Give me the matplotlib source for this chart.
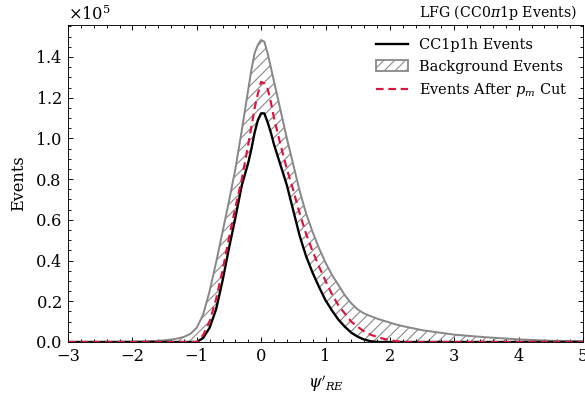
import numpy as np
import matplotlib
matplotlib.use("Agg")
import matplotlib.pyplot as plt
from matplotlib.ticker import MultipleLocator, AutoMinorLocator, ScalarFormatter
from matplotlib.lines import Line2D
from matplotlib.patches import Patch

plt.rcParams.update({
    "font.family": ["DejaVu Serif"],
    "mathtext.fontset": "dejavuserif",
    "font.size": 8,
    "xtick.direction": "in",
    "ytick.direction": "in",
    "xtick.top": True,
    "ytick.right": True,
    "xtick.minor.visible": True,
    "ytick.minor.visible": True,
    "xtick.major.size": 3,
    "ytick.major.size": 3,
    "xtick.minor.size": 1.5,
    "ytick.minor.size": 1.5,
    "xtick.major.width": 0.5,
    "ytick.major.width": 0.5,
    "xtick.minor.width": 0.5,
    "ytick.minor.width": 0.5,
    "axes.linewidth": 0.5,
    "hatch.linewidth": 0.6,
    "hatch.color": "#888888",
})

# psi'_RE grid
psi = [-3.0, -2.5, -2.0, -1.8, -1.6, -1.5, -1.4, -1.3, -1.2, -1.1, -1.0,
       -0.9, -0.8, -0.7, -0.6, -0.5, -0.4, -0.3, -0.2, -0.15, -0.1, -0.05, 0.0, 0.05,
       0.1, 0.15, 0.2, 0.3, 0.4, 0.5, 0.6, 0.7, 0.8, 0.9, 1.0, 1.1, 1.2, 1.3,
       1.4, 1.5, 1.6, 1.7, 1.8, 1.9, 2.0, 2.1, 2.2, 2.5, 3.0, 3.5, 4.0,
       4.5, 5.0]

# Events (units of 1e5)
cc1p1h = [0, 0, 0, 0, 0, 0, 0, 0, 0, 0, 0.0,
          0.02, 0.07, 0.16, 0.30, 0.46, 0.61, 0.77, 0.88, 0.95, 1.03, 1.09, 1.123, 1.123,
          1.08, 1.03, 0.97, 0.87, 0.77, 0.645, 0.52, 0.42, 0.34, 0.27, 0.205, 0.155, 0.11, 0.075,
          0.046, 0.026, 0.012, 0.004, 0.0, 0, 0, 0, 0, 0, 0, 0, 0,
          0, 0]

after_cut = [0, 0, 0, 0, 0, 0, 0, 0, 0, 0, 0.0,
             0.034, 0.10, 0.21, 0.35, 0.51, 0.66, 0.80, 0.97, 1.06, 1.15, 1.22, 1.278, 1.27,
             1.245, 1.18, 1.10, 0.97, 0.85, 0.745, 0.63, 0.53, 0.445, 0.37, 0.30, 0.235, 0.18, 0.14,
             0.10, 0.075, 0.052, 0.036, 0.025, 0.016, 0.009, 0.004, 0.0, 0, 0, 0, 0,
             0, 0]

total = [0.0, 0.0005, 0.0015, 0.003, 0.006, 0.008, 0.012, 0.017, 0.025, 0.04, 0.07,
         0.135, 0.25, 0.39, 0.54, 0.69, 0.85, 1.04, 1.24, 1.34, 1.42, 1.46, 1.483, 1.475,
         1.42, 1.35, 1.28, 1.14, 1.00, 0.87, 0.74, 0.63, 0.54, 0.46, 0.39, 0.33, 0.28, 0.23,
         0.19, 0.16, 0.14, 0.127, 0.115, 0.105, 0.095, 0.086, 0.078, 0.058, 0.036, 0.023, 0.013,
         0.006, 0.004]

scale = 1e5
x = np.array(psi)
sig = np.array(cc1p1h) * scale
cut = np.array(after_cut) * scale
tot = np.array(total) * scale

fig = plt.figure(figsize=(4.5, 398 / 130), dpi=130)
ax = fig.add_axes([68 / 585, 1 - 342 / 398, (583 - 68) / 585, (342 - 25) / 398])

ax.fill_between(x, sig, tot, facecolor="none", edgecolor="#888888", hatch="////", linewidth=0)
ax.plot(x, tot, color="#888888", lw=1.1)
ax.plot(x, sig, color="black", lw=1.3)
ax.plot(x, cut, color="#DC143C", lw=1.2, ls=(0, (3.5, 2.2)))

ax.set_xlim(-3, 5)
ax.set_ylim(0, 1.557e5)
ax.xaxis.set_major_locator(MultipleLocator(1))
ax.xaxis.set_minor_locator(AutoMinorLocator(5))
ax.yaxis.set_major_locator(MultipleLocator(0.2e5))
ax.yaxis.set_minor_locator(AutoMinorLocator(4))
fmt = ScalarFormatter(useMathText=True)
fmt.set_powerlimits((0, 0))
ax.yaxis.set_major_formatter(fmt)
ax.tick_params(labelsize=9)
ax.yaxis.get_offset_text().set_fontsize(9)

ax.set_xlabel(r"$\psi'_{RE}$", fontsize=9)
ax.set_ylabel("Events", fontsize=9)
fig.text(577 / 585, 1 - 12 / 398, r"LFG (CC0$\pi$1p Events)", ha="right", va="center",
         fontsize=7.8)

handles = [
    Line2D([], [], color="black", lw=1.3),
    Patch(facecolor="none", edgecolor="#888888", hatch="////", lw=1.0),
    Line2D([], [], color="#DC143C", lw=1.2, ls=(0, (3.5, 2.2))),
]
labels = ["CC1p1h Events", "Background Events", r"Events After $p_m$ Cut"]
ax.legend(handles, labels, loc="upper right", frameon=False, fontsize=8,
          handlelength=2.2, handletextpad=0.8, borderaxespad=0.3,
          bbox_to_anchor=(0.99, 0.99))

fig.savefig("out.png", dpi=130)
